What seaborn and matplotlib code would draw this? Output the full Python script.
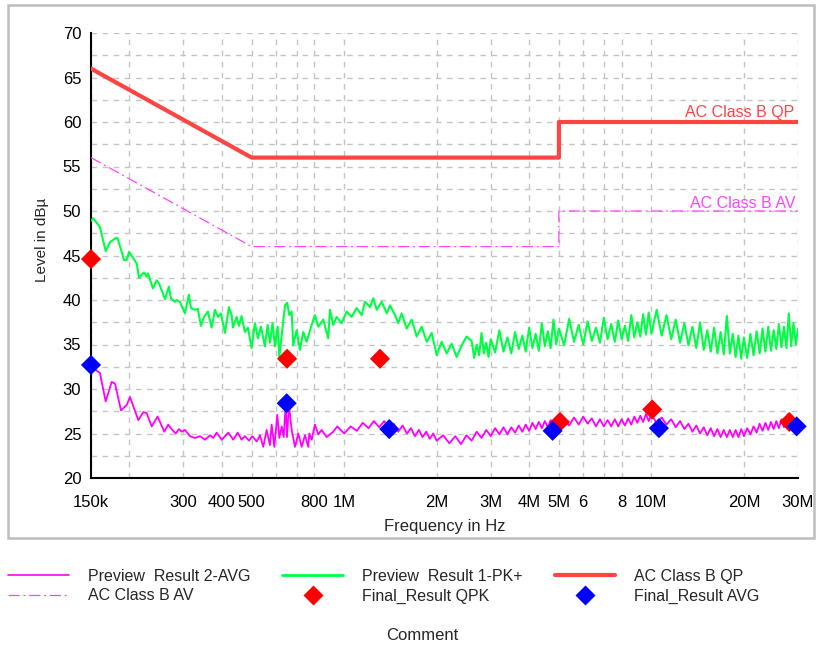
import pandas as pd
import matplotlib
matplotlib.use('Agg')
import matplotlib.pyplot as plt
import seaborn as sns
from matplotlib.lines import Line2D
from matplotlib.patches import Rectangle
from matplotlib.ticker import FixedLocator, FixedFormatter, MultipleLocator, NullFormatter

# Preview Result 1-PK+ (green), frequency in MHz, level in dBuV
pk_mhz = [0.150, 0.1508, 0.1523, 0.1604, 0.1674, 0.1729, 0.1815, 0.1833, 0.1921, 0.1960,
          0.1995, 0.2113, 0.2149, 0.2231, 0.2276, 0.2299, 0.2386, 0.2453, 0.2496, 0.2611,
          0.2689, 0.2730, 0.2813, 0.2849, 0.2920, 0.3032, 0.3124, 0.3171, 0.3267, 0.3342,
          0.3418, 0.3496, 0.3602, 0.3704, 0.3796, 0.3883, 0.3971, 0.4092, 0.4216, 0.4303,
          0.4345, 0.4467, 0.4544, 0.4637, 0.4753, 0.4861, 0.4998, 0.5123, 0.5240, 0.5359,
          0.5522, 0.5635, 0.5733, 0.5850, 0.5952, 0.6074,
          0.615, 0.642, 0.6527, 0.663, 0.6749, 0.6827, 0.7004, 0.718, 0.7359, 0.7548,
          0.784, 0.803, 0.824, 0.855, 0.8875, 0.899, 0.9217, 0.945, 0.981, 1.019,
          1.058, 1.098, 1.140, 1.169, 1.214, 1.244, 1.276, 1.325, 1.376, 1.410,
          1.464, 1.500, 1.539, 1.598, 1.659, 1.722, 1.788, 1.857, 1.927, 2.001,
          2.077, 2.156, 2.238, 2.323, 2.412, 2.504,
          2.60, 2.65, 2.70, 2.75, 2.80, 2.85, 2.90, 2.95, 3.00,
          3.1, 3.2, 3.3, 3.4, 3.5, 3.6, 3.7, 3.8, 3.9, 4.0,
          4.1, 4.2, 4.3, 4.4, 4.5, 4.6, 4.7, 4.8, 4.9, 5.0,
          5.2, 5.4, 5.6, 5.8, 6.0, 6.2, 6.4, 6.6, 6.8, 7.0,
          7.2, 7.4, 7.6, 7.8, 8.0, 8.2, 8.4, 8.6, 8.8, 9.0,
          9.2, 9.4, 9.6, 9.8, 10.0,
          10.4, 10.8, 11.2, 11.6, 12.0, 12.4, 12.8, 13.2, 13.6, 14.0,
          14.4, 14.8, 15.2, 15.6, 16.0, 16.4, 16.8, 17.2, 17.6, 18.0,
          18.4, 18.8, 19.2, 19.6, 20.0,
          20.5, 21.0, 21.5, 22.0, 22.5, 23.0, 23.5, 24.0, 24.5, 25.0,
          25.5, 26.0, 26.5, 27.0, 27.5, 28.0, 28.5, 29.0, 29.5, 30.0]
pk_level = [48.9, 49.0, 49.2, 48.2, 45.5, 46.5, 47.0, 46.9, 44.5, 44.5,
            45.4, 44.1, 42.5, 43.1, 42.6, 43.0, 41.3, 42.2, 41.9, 40.1,
            41.5, 40.2, 39.8, 40.0, 39.8, 38.5, 40.6, 39.1, 38.9, 39.0,
            37.1, 38.1, 38.7, 36.9, 38.9, 38.1, 38.5, 36.3, 39.2, 38.3,
            36.9, 38.1, 37.1, 38.2, 36.4, 36.9, 34.6, 37.4, 35.7, 37.0,
            34.8, 37.2, 35.2, 37.4, 34.8, 37.0,
            33.6, 39.4, 39.7, 38.3, 38.7, 34.9, 36.6, 34.4, 36.4, 35.3,
            37.2, 38.3, 37.0, 37.8, 35.7, 38.9, 37.2, 38.1, 37.4, 38.7,
            38.1, 39.1, 38.3, 39.8, 39.2, 40.2, 38.9, 39.8, 38.5, 39.4,
            38.3, 37.4, 38.5, 36.8, 37.8, 35.9, 37.0, 35.3, 36.3, 33.8,
            35.3, 34.0, 35.1, 33.6, 34.9, 35.9,
            35.4, 33.5, 35.0, 33.8, 36.3, 34.0, 35.2, 33.6, 35.6,
            34.1, 36.6, 34.2, 35.8, 34.0, 36.4, 34.5, 36.0, 34.2, 36.9,
            34.6, 36.2, 34.3, 37.4, 34.8, 36.5, 34.6, 37.8, 35.0, 36.8,
            34.9, 37.9, 35.3, 37.2, 35.0, 37.6, 35.4, 36.9, 35.2, 38.0,
            35.6, 37.3, 35.3, 37.7, 35.6, 37.1, 35.4, 38.3, 35.8, 37.5,
            35.9, 38.4, 36.1, 38.6, 36.2,
            38.9, 36.0, 38.3, 35.6, 37.8, 35.2, 37.4, 34.9, 37.0, 34.6,
            37.5, 34.4, 36.6, 34.2, 36.9, 34.0, 36.4, 33.9, 38.2, 34.0,
            36.2, 33.6, 36.0, 33.4, 35.8,
            33.5, 36.2, 33.8, 36.5, 34.0, 36.8, 34.2, 37.0, 34.3, 36.6,
            34.5, 37.3, 34.7, 37.0, 34.6, 38.5, 34.8, 37.4, 35.0, 36.8]

# Preview Result 2-AVG (magenta)
avg_mhz = [0.150, 0.1604, 0.1674, 0.1752, 0.1796, 0.1878, 0.1960, 0.2009, 0.2138, 0.2220,
           0.2276, 0.2364, 0.2472, 0.2598, 0.2676, 0.2745, 0.2829, 0.2901, 0.2960, 0.3032,
           0.3150, 0.3267, 0.3395, 0.3525, 0.3659, 0.3750, 0.3847, 0.3994, 0.4197, 0.4357,
           0.4503, 0.4637, 0.4753, 0.4902, 0.5024, 0.5193, 0.5322, 0.5455, 0.5596, 0.5733,
           0.5809, 0.5925, 0.6060, 0.6152, 0.6263, 0.6357, 0.6453, 0.6516, 0.6614, 0.6749,
           0.6918, 0.7092, 0.7274, 0.7456, 0.7643, 0.7700, 0.7841, 0.8032, 0.8238, 0.8446,
           0.8772, 0.9217,
           0.95, 1.00, 1.05, 1.10, 1.15, 1.20, 1.25, 1.30, 1.35, 1.40,
           1.45, 1.50, 1.55, 1.60, 1.65, 1.70, 1.75, 1.80, 1.85, 1.90,
           1.95, 2.00, 2.1, 2.2, 2.3, 2.4, 2.5, 2.6, 2.7, 2.8,
           2.9, 3.0, 3.1, 3.2, 3.3, 3.4, 3.5, 3.6, 3.7, 3.8,
           3.9, 4.0, 4.1, 4.2, 4.3, 4.4, 4.5, 4.6, 4.7, 4.8,
           4.9, 5.0, 5.2, 5.4, 5.6, 5.8, 6.0, 6.2, 6.4, 6.6,
           6.8, 7.0, 7.2, 7.4, 7.6, 7.8, 8.0, 8.2, 8.4, 8.6,
           8.8, 9.0, 9.2, 9.4, 9.6, 9.8, 10.0, 10.4, 10.8, 11.2,
           11.6, 12.0, 12.4, 12.8, 13.2, 13.6, 14.0, 14.4, 14.8, 15.2,
           15.6, 16.0, 16.4, 16.8, 17.2, 17.6, 18.0, 18.4, 18.8, 19.2,
           19.6, 20.0, 20.5, 21.0, 21.5, 22.0, 22.5, 23.0, 23.5, 24.0,
           24.5, 25.0, 25.5, 26.0, 26.5, 27.0, 27.5, 28.0, 28.5, 29.0,
           29.5, 30.0]
avg_level = [32.5, 31.8, 28.6, 30.8, 30.6, 27.6, 28.2, 29.1, 26.5, 27.4,
             27.3, 25.8, 26.9, 25.2, 26.0, 25.5, 25.0, 25.5, 25.2, 25.4,
             24.7, 24.5, 24.7, 24.3, 24.8, 24.5, 25.1, 24.3, 25.1, 24.3,
             25.1, 24.3, 24.7, 24.2, 24.7, 24.1, 24.8, 23.5, 25.4, 23.7,
             26.0, 23.5, 27.1, 24.5, 25.8, 24.6, 28.2, 24.6, 28.2, 25.4,
             23.5, 25.0, 23.5, 24.8, 23.5, 25.0, 24.3, 26.0, 24.9, 25.4,
             24.6, 25.2,
             25.8, 25.0, 25.8, 25.3, 26.2, 25.6, 26.4, 25.7, 26.4, 25.5,
             26.1, 25.2, 25.9, 25.0, 25.6, 24.7, 25.4, 24.6, 25.2, 24.4,
             25.0, 24.2, 24.8, 23.9, 24.7, 23.8, 24.8, 24.2, 25.2, 24.5,
             25.4, 24.7, 25.6, 24.9, 25.7, 24.9, 25.7, 25.1, 25.9, 25.2,
             26.0, 25.3, 26.2, 25.5, 26.3, 25.6, 26.4, 25.7, 26.5, 25.7,
             26.5, 25.8, 26.6, 25.9, 26.8, 26.0, 26.9, 26.1, 26.7, 25.8,
             26.6, 25.8, 26.5, 25.8, 26.6, 25.8, 26.6, 25.9, 26.7, 26.0,
             26.9, 26.2, 27.0, 26.3, 27.2, 26.4, 27.1, 26.2, 26.8, 26.0,
             26.6, 25.7, 26.4, 25.5, 26.1, 25.2, 25.9, 25.0, 25.7, 24.8,
             25.6, 24.7, 25.5, 24.6, 25.4, 24.6, 25.4, 24.6, 25.4, 24.6,
             25.5, 24.7, 25.6, 24.9, 25.8, 25.1, 26.1, 25.3, 26.2, 25.4,
             26.3, 25.5, 26.4, 25.6, 26.6, 25.7, 26.6, 25.7, 26.5, 25.8,
             26.5, 25.9]

# limit lines
limit_mhz = [0.15, 0.5, 5.0, 5.0, 30.0]
qp_limit = [66, 56, 56, 60, 60]
av_limit = [56, 46, 46, 50, 50]

# final results
qpk_mhz = [0.150, 0.652, 1.308, 5.04, 10.06, 28.1]
qpk_level = [44.6, 33.4, 33.4, 26.3, 27.7, 26.3]
avgf_mhz = [0.150, 0.650, 1.402, 4.77, 10.58, 29.7]
avgf_level = [32.7, 28.4, 25.5, 25.3, 25.6, 25.8]

xtick_mhz = [0.15, 0.2, 0.3, 0.4, 0.5, 0.6, 0.7, 0.8, 1, 2, 3, 4, 5, 6, 7, 8, 10, 20, 30]
xtick_labels = ['150k', '', '300', '400', '500', '', '', '800', '1M', '2M', '3M', '4M',
                '5M', '6', '', '8', '10M', '20M', '30M']

GREEN = '#00ff44'
MAGENTA = '#ff00ff'
QP_RED = '#ff4444'
AV_PINK = '#ff44ff'

sns.set_style('white')
plt.rcParams['font.family'] = ['Liberation Sans', 'DejaVu Sans']

fig = plt.figure(figsize=(8.22, 6.49), dpi=100)
ax = fig.add_axes([91 / 822, 1 - 478 / 649, 707 / 822, 445 / 649])

pk = pd.DataFrame({'f': [m * 1e6 for m in pk_mhz], 'v': pk_level})
avg = pd.DataFrame({'f': [m * 1e6 for m in avg_mhz], 'v': avg_level})
lim = pd.DataFrame({'f': [m * 1e6 for m in limit_mhz], 'qp': qp_limit, 'av': av_limit})

sns.lineplot(data=pk, x='f', y='v', ax=ax, color=GREEN, lw=1.5,
             estimator=None, sort=False, legend=False, zorder=3)
sns.lineplot(data=avg, x='f', y='v', ax=ax, color=MAGENTA, lw=1.3,
             estimator=None, sort=False, legend=False, zorder=4)
sns.lineplot(data=lim, x='f', y='qp', ax=ax, color=QP_RED, lw=3,
             estimator=None, sort=False, legend=False, zorder=3)
sns.lineplot(data=lim, x='f', y='av', ax=ax, color=AV_PINK, lw=0.9,
             linestyle=(0, (9, 3, 1.5, 3)), estimator=None, sort=False, legend=False, zorder=3)
sns.scatterplot(x=[m * 1e6 for m in qpk_mhz], y=qpk_level, ax=ax, marker='D', s=105,
                color='#ff0000', edgecolor='none', legend=False, zorder=6, clip_on=False)
sns.scatterplot(x=[m * 1e6 for m in avgf_mhz], y=avgf_level, ax=ax, marker='D', s=105,
                color='#0000ff', edgecolor='none', legend=False, zorder=7, clip_on=False)

ax.set_xscale('log')
ax.set_xlim(150e3, 30e6)
ax.set_ylim(20, 70)
ax.xaxis.set_major_locator(FixedLocator([m * 1e6 for m in xtick_mhz]))
ax.xaxis.set_major_formatter(FixedFormatter(xtick_labels))
ax.xaxis.set_minor_locator(FixedLocator([]))
ax.xaxis.set_minor_formatter(NullFormatter())
ax.yaxis.set_major_locator(MultipleLocator(5))
ax.yaxis.set_minor_locator(MultipleLocator(2.5))

ax.grid(True, which='both', ls=(0, (4, 4)), color='#c4c4c4', lw=1)
ax.set_axisbelow(True)
for s in ['top', 'right']:
    ax.spines[s].set_visible(False)
for s in ['left', 'bottom']:
    ax.spines[s].set_color('black')
    ax.spines[s].set_linewidth(1.5)
ax.tick_params(axis='both', which='both', direction='inout', length=8, width=1.5,
               colors='black', labelsize=12)
ax.tick_params(axis='x', pad=8)
ax.tick_params(axis='y', pad=3)

ax.set_xlabel('Frequency in Hz', fontsize=12)
ax.set_ylabel('Level in dBµ', fontsize=11)
ax.xaxis.set_label_coords(0.5, -0.093)
ax.yaxis.set_label_coords(-0.06, 0.535)

ax.text(0.995, 60.2, 'AC Class B QP', transform=ax.get_yaxis_transform(),
        ha='right', va='bottom', color=QP_RED, fontsize=11.5)
ax.text(0.997, 50.0, 'AC Class B AV', transform=ax.get_yaxis_transform(),
        ha='right', va='bottom', color=AV_PINK, fontsize=11.5)

# chart frame
fig.add_artist(Rectangle((8 / 822, 1 - 538 / 649), 806 / 822, 533 / 649,
                         transform=fig.transFigure, fill=False, ec='#bdbdbd', lw=1.8))

handles = [
    Line2D([], [], color=MAGENTA, lw=1.2),
    Line2D([], [], color=AV_PINK, lw=0.9, ls=(0, (9, 3, 1.5, 3))),
    Line2D([], [], color=GREEN, lw=2),
    Line2D([], [], color='#ff0000', marker='D', ms=10, ls='none', mec='none'),
    Line2D([], [], color=QP_RED, lw=3),
    Line2D([], [], color='#0000ff', marker='D', ms=10, ls='none', mec='none'),
]
labels = ['Preview  Result 2-AVG', 'AC Class B AV', 'Preview  Result 1-PK+',
          'Final_Result QPK', 'AC Class B QP', 'Final_Result AVG']
fig.legend(handles, labels, ncol=3, loc='upper left', bbox_to_anchor=(8 / 822, 1 - 569 / 649),
           frameon=False, fontsize=11.5, handlelength=3.8, handletextpad=1.2,
           columnspacing=2.0, labelspacing=0.28, borderpad=0, borderaxespad=0)
fig.text(422 / 822, 1 - 636 / 649, 'Comment', ha='center', va='center', fontsize=12)

plt.savefig('out.png', dpi=100)
plt.close()
